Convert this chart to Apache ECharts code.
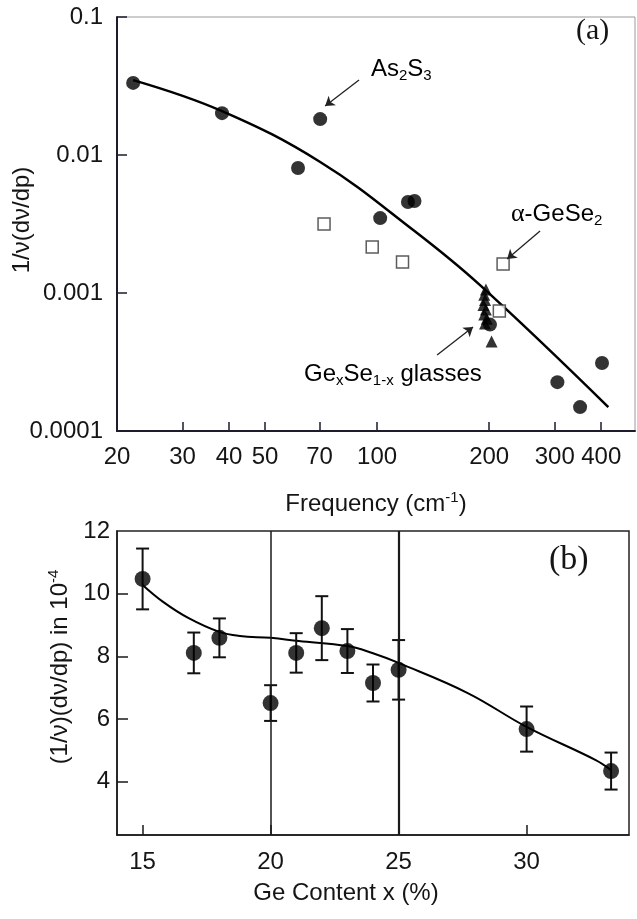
<!DOCTYPE html>
<html>
<head>
<meta charset="utf-8">
<script src="https://cdn.jsdelivr.net/npm/echarts@6/dist/echarts.min.js"></script>
<style>html,body{margin:0;padding:0;background:#fff;}#c{width:637px;height:919px;}</style>
</head>
<body>
<div id="c"></div>
<script>
// ---------- Panel (a) data ----------
const freqTicks = [20, 30, 40, 50, 70, 100, 200, 300, 400];
const logYTicks = [0.0001, 0.001, 0.01, 0.1];
const circlesA = [[22.1, 0.0333], [38.3, 0.0201], [61.3, 0.00805], [70.3, 0.0182], [101.9, 0.00349],
  [121, 0.00456], [126, 0.00464], [201, 0.00059], [305, 0.000226], [351, 0.000149], [402, 0.000311]];
const squaresA = [[72, 0.00316], [97, 0.00215], [117, 0.00168], [218, 0.00162], [213, 0.00074]];
const trianglesA = [[196, 0.00106], [194, 0.00097], [195, 0.00089], [193, 0.00082], [196, 0.00076],
  [194, 0.0007], [197, 0.00065], [195, 0.0006], [203, 0.000445]];
const fitA = [[22.1, 0.0349], [38.3, 0.0208], [70.3, 0.0089], [125, 0.00286], [189, 0.00114], [418, 0.000149]];
const arrowsA = [
  [[89.4, 0.035], [72.5, 0.02265]],
  [[274, 0.00281], [223.5, 0.00176]],
  [[144.9, 0.000355], [181, 0.000567]]
];

// ---------- Panel (b) data ----------
const geX = [15, 17, 18, 20, 21, 22, 23, 24, 25, 30, 33.3];
const geY = [10.47, 8.11, 8.59, 6.51, 8.11, 8.9, 8.17, 7.15, 7.57, 5.68, 4.34];
const geErr = [0.97, 0.65, 0.62, 0.57, 0.63, 1.02, 0.7, 0.59, 0.95, 0.72, 0.59];
const fitB = [[15, 10.28], [15.8, 9.74], [16.8, 9.22], [18, 8.78], [18.8, 8.65], [20, 8.59], [21.1, 8.49],
  [23, 8.33], [24, 8.1], [25, 7.79], [27.7, 6.83], [30, 5.75], [32.7, 4.69], [33.3, 4.37]];
const ticksBX = [15, 20, 25, 30];
const ticksBY = [4, 6, 8, 10, 12];
const vLinesB = [20, 25];

const INK = '#151515';
const SANS = 'Liberation Sans, Arial, Helvetica, sans-serif';
const SERIF = 'Liberation Serif, Times New Roman, serif';

const ptsB = geX.map((x, i) => [x, geY[i]]);
const errB = geX.map((x, i) => [x, geY[i], geErr[i]]);

const mainTok = { fontSize: 24, lineHeight: 28, color: INK, fontFamily: SANS };
const subTok = { fontSize: 15, lineHeight: 14, verticalAlign: 'bottom', color: INK, fontFamily: SANS };
const supTok = { fontSize: 15, lineHeight: 14, verticalAlign: 'top', color: INK, fontFamily: SANS };

const chart = echarts.init(document.getElementById('c'), null, { renderer: 'canvas' });

const option = {
  animation: false,
  backgroundColor: '#ffffff',
  textStyle: { fontFamily: SANS },
  grid: [
    { left: 117, top: 17, right: 2, bottom: 488, show: true, borderColor: '#9a9a9a', borderWidth: 1, containLabel: false, outerBoundsMode: 'none' },
    { left: 117, top: 531, right: 8, bottom: 84, show: true, borderColor: '#222', borderWidth: 1.5, containLabel: false, outerBoundsMode: 'none' }
  ],
  xAxis: [
    {
      type: 'log', gridIndex: 0, logBase: 10, min: 20, max: 493,
      axisLine: { show: true, onZero: false, lineStyle: { color: '#1c1c2c', width: 2 } },
      axisTick: { show: true, inside: true, length: 9, customValues: freqTicks, lineStyle: { color: '#1c1c2c', width: 1.5 } },
      axisLabel: { customValues: freqTicks, margin: 14, fontSize: 24, color: INK, formatter: v => String(Math.round(v)) },
      splitLine: { show: false }, minorTick: { show: false }, minorSplitLine: { show: false },
      name: '{m|Frequency (cm}{p|-1}{m|)}', nameLocation: 'middle', nameGap: 59, nameMoveOverlap: false,
      nameTextStyle: { rich: { m: mainTok, p: supTok } }
    },
    {
      type: 'value', gridIndex: 1, min: 14, max: 34,
      axisLine: { show: true, onZero: false, lineStyle: { color: '#1a1a1a', width: 1.5 } },
      axisTick: { show: true, inside: true, length: 10, customValues: ticksBX, lineStyle: { color: '#1a1a1a', width: 1.5 } },
      axisLabel: { customValues: ticksBX, margin: 15, fontSize: 24, color: INK },
      splitLine: { show: false },
      name: '{m|Ge Content x (%)}', nameLocation: 'middle', nameGap: 44, nameMoveOverlap: false,
      nameTextStyle: { padding: [0, 54, 0, 0], rich: { m: mainTok } }
    }
  ],
  yAxis: [
    {
      type: 'log', gridIndex: 0, logBase: 10, min: 0.0001, max: 0.1,
      axisLine: { show: true, onZero: false, lineStyle: { color: '#1c1c2c', width: 2 } },
      axisTick: { show: true, inside: true, length: 10, lineStyle: { color: '#1c1c2c', width: 1.5 } },
      axisLabel: { margin: 14, fontSize: 24, color: INK, formatter: v => String(parseFloat(Number(v).toPrecision(6))) },
      splitLine: { show: false }, minorTick: { show: false }, minorSplitLine: { show: false },
      name: '{m|1/ν(dν/dp)}', nameLocation: 'middle', nameGap: 81, nameMoveOverlap: false,
      nameTextStyle: { padding: [0, 0, 0, 8], rich: { m: mainTok } }
    },
    {
      type: 'value', gridIndex: 1, min: 2.3, max: 12,
      axisLine: { show: true, onZero: false, lineStyle: { color: '#1a1a1a', width: 1.5 } },
      axisTick: { show: true, inside: true, length: 11, customValues: [4, 6, 8, 10], lineStyle: { color: '#1a1a1a', width: 1.5 } },
      axisLabel: { customValues: ticksBY, margin: 7, fontSize: 24, color: INK },
      splitLine: { show: false },
      name: '{m|(1/ν)(dν/dp) in 10}{p|-4}', nameLocation: 'middle', nameGap: 43, nameMoveOverlap: false,
      nameTextStyle: { padding: [0, 0, 0, 32], rich: { m: mainTok, p: supTok } }
    }
  ],
  series: [
    {
      type: 'line', xAxisIndex: 0, yAxisIndex: 0, data: fitA, smooth: 0.4, showSymbol: false, symbol: 'none',
      lineStyle: { color: '#000', width: 2.5 }, z: 2, silent: true
    },
    {
      type: 'scatter', xAxisIndex: 0, yAxisIndex: 0, data: squaresA, symbol: 'rect', symbolSize: 12,
      itemStyle: { color: '#fff', borderColor: '#333', borderWidth: 1.5 }, z: 3
    },
    {
      type: 'scatter', xAxisIndex: 0, yAxisIndex: 0, data: trianglesA, symbol: 'triangle', symbolSize: 12,
      itemStyle: { color: '#000' }, z: 4
    },
    {
      type: 'scatter', xAxisIndex: 0, yAxisIndex: 0, data: circlesA, symbol: 'circle', symbolSize: 14,
      itemStyle: { color: '#000' }, z: 5,
      markLine: {
        silent: true, symbol: ['none', 'arrow'], symbolSize: 9, animation: false,
        label: { show: false },
        lineStyle: { color: '#222', width: 1.3, type: 'solid' },
        data: arrowsA.map(a => [{ coord: a[0] }, { coord: a[1] }])
      }
    },
    {
      type: 'line', xAxisIndex: 1, yAxisIndex: 1, data: fitB, smooth: 0.4, showSymbol: false, symbol: 'none',
      lineStyle: { color: '#000', width: 2 }, z: 2, silent: true,
      markLine: {
        silent: true, symbol: 'none', animation: false, label: { show: false },
        lineStyle: { color: '#1a1a1a', width: 1.5, type: 'solid' },
        data: vLinesB.map((v, i) => ({ xAxis: v, lineStyle: { width: i === 1 ? 2.2 : 1.5 } }))
      }
    },
    {
      type: 'custom', xAxisIndex: 1, yAxisIndex: 1, data: errB, z: 3, silent: true,
      encode: { x: 0, y: 1 },
      renderItem: function (params, api) {
        const x = api.value(0), y = api.value(1), e = api.value(2);
        const t = api.coord([x, y + e]);
        const b = api.coord([x, y - e]);
        const w = 6.5;
        const st = { stroke: '#111', lineWidth: 2 };
        return {
          type: 'group', children: [
            { type: 'line', shape: { x1: t[0], y1: t[1], x2: b[0], y2: b[1] }, style: st },
            { type: 'line', shape: { x1: t[0] - w, y1: t[1], x2: t[0] + w, y2: t[1] }, style: st },
            { type: 'line', shape: { x1: b[0] - w, y1: b[1], x2: b[0] + w, y2: b[1] }, style: st }
          ]
        };
      }
    },
    {
      type: 'scatter', xAxisIndex: 1, yAxisIndex: 1, data: ptsB, symbol: 'circle', symbolSize: 16,
      itemStyle: { color: '#000' }, z: 5
    }
  ],
  graphic: [
    { type: 'text', left: 576, top: 16, style: { text: '(a)', font: '30px ' + SERIF, fill: INK } },
    { type: 'text', left: 549, top: 543, style: { text: '(b)', font: '34px ' + SERIF, fill: INK } },
    {
      type: 'text', x: 371, y: 55,
      style: { text: '{m|As}{s|2}{m|S}{s|3}', rich: { m: mainTok, s: subTok } }
    },
    {
      type: 'text', x: 511, y: 200,
      style: {
        text: '{g|α}{m|-GeSe}{s|2}',
        rich: { g: { fontSize: 26, lineHeight: 28, color: INK, fontFamily: SERIF }, m: mainTok, s: subTok }
      }
    },
    {
      type: 'text', x: 304, y: 360,
      style: { text: '{m|Ge}{s|x}{m|Se}{s|1-x}{m| glasses}', rich: { m: mainTok, s: subTok } }
    }
  ]
};
chart.setOption(option);
</script>
</body>
</html>
